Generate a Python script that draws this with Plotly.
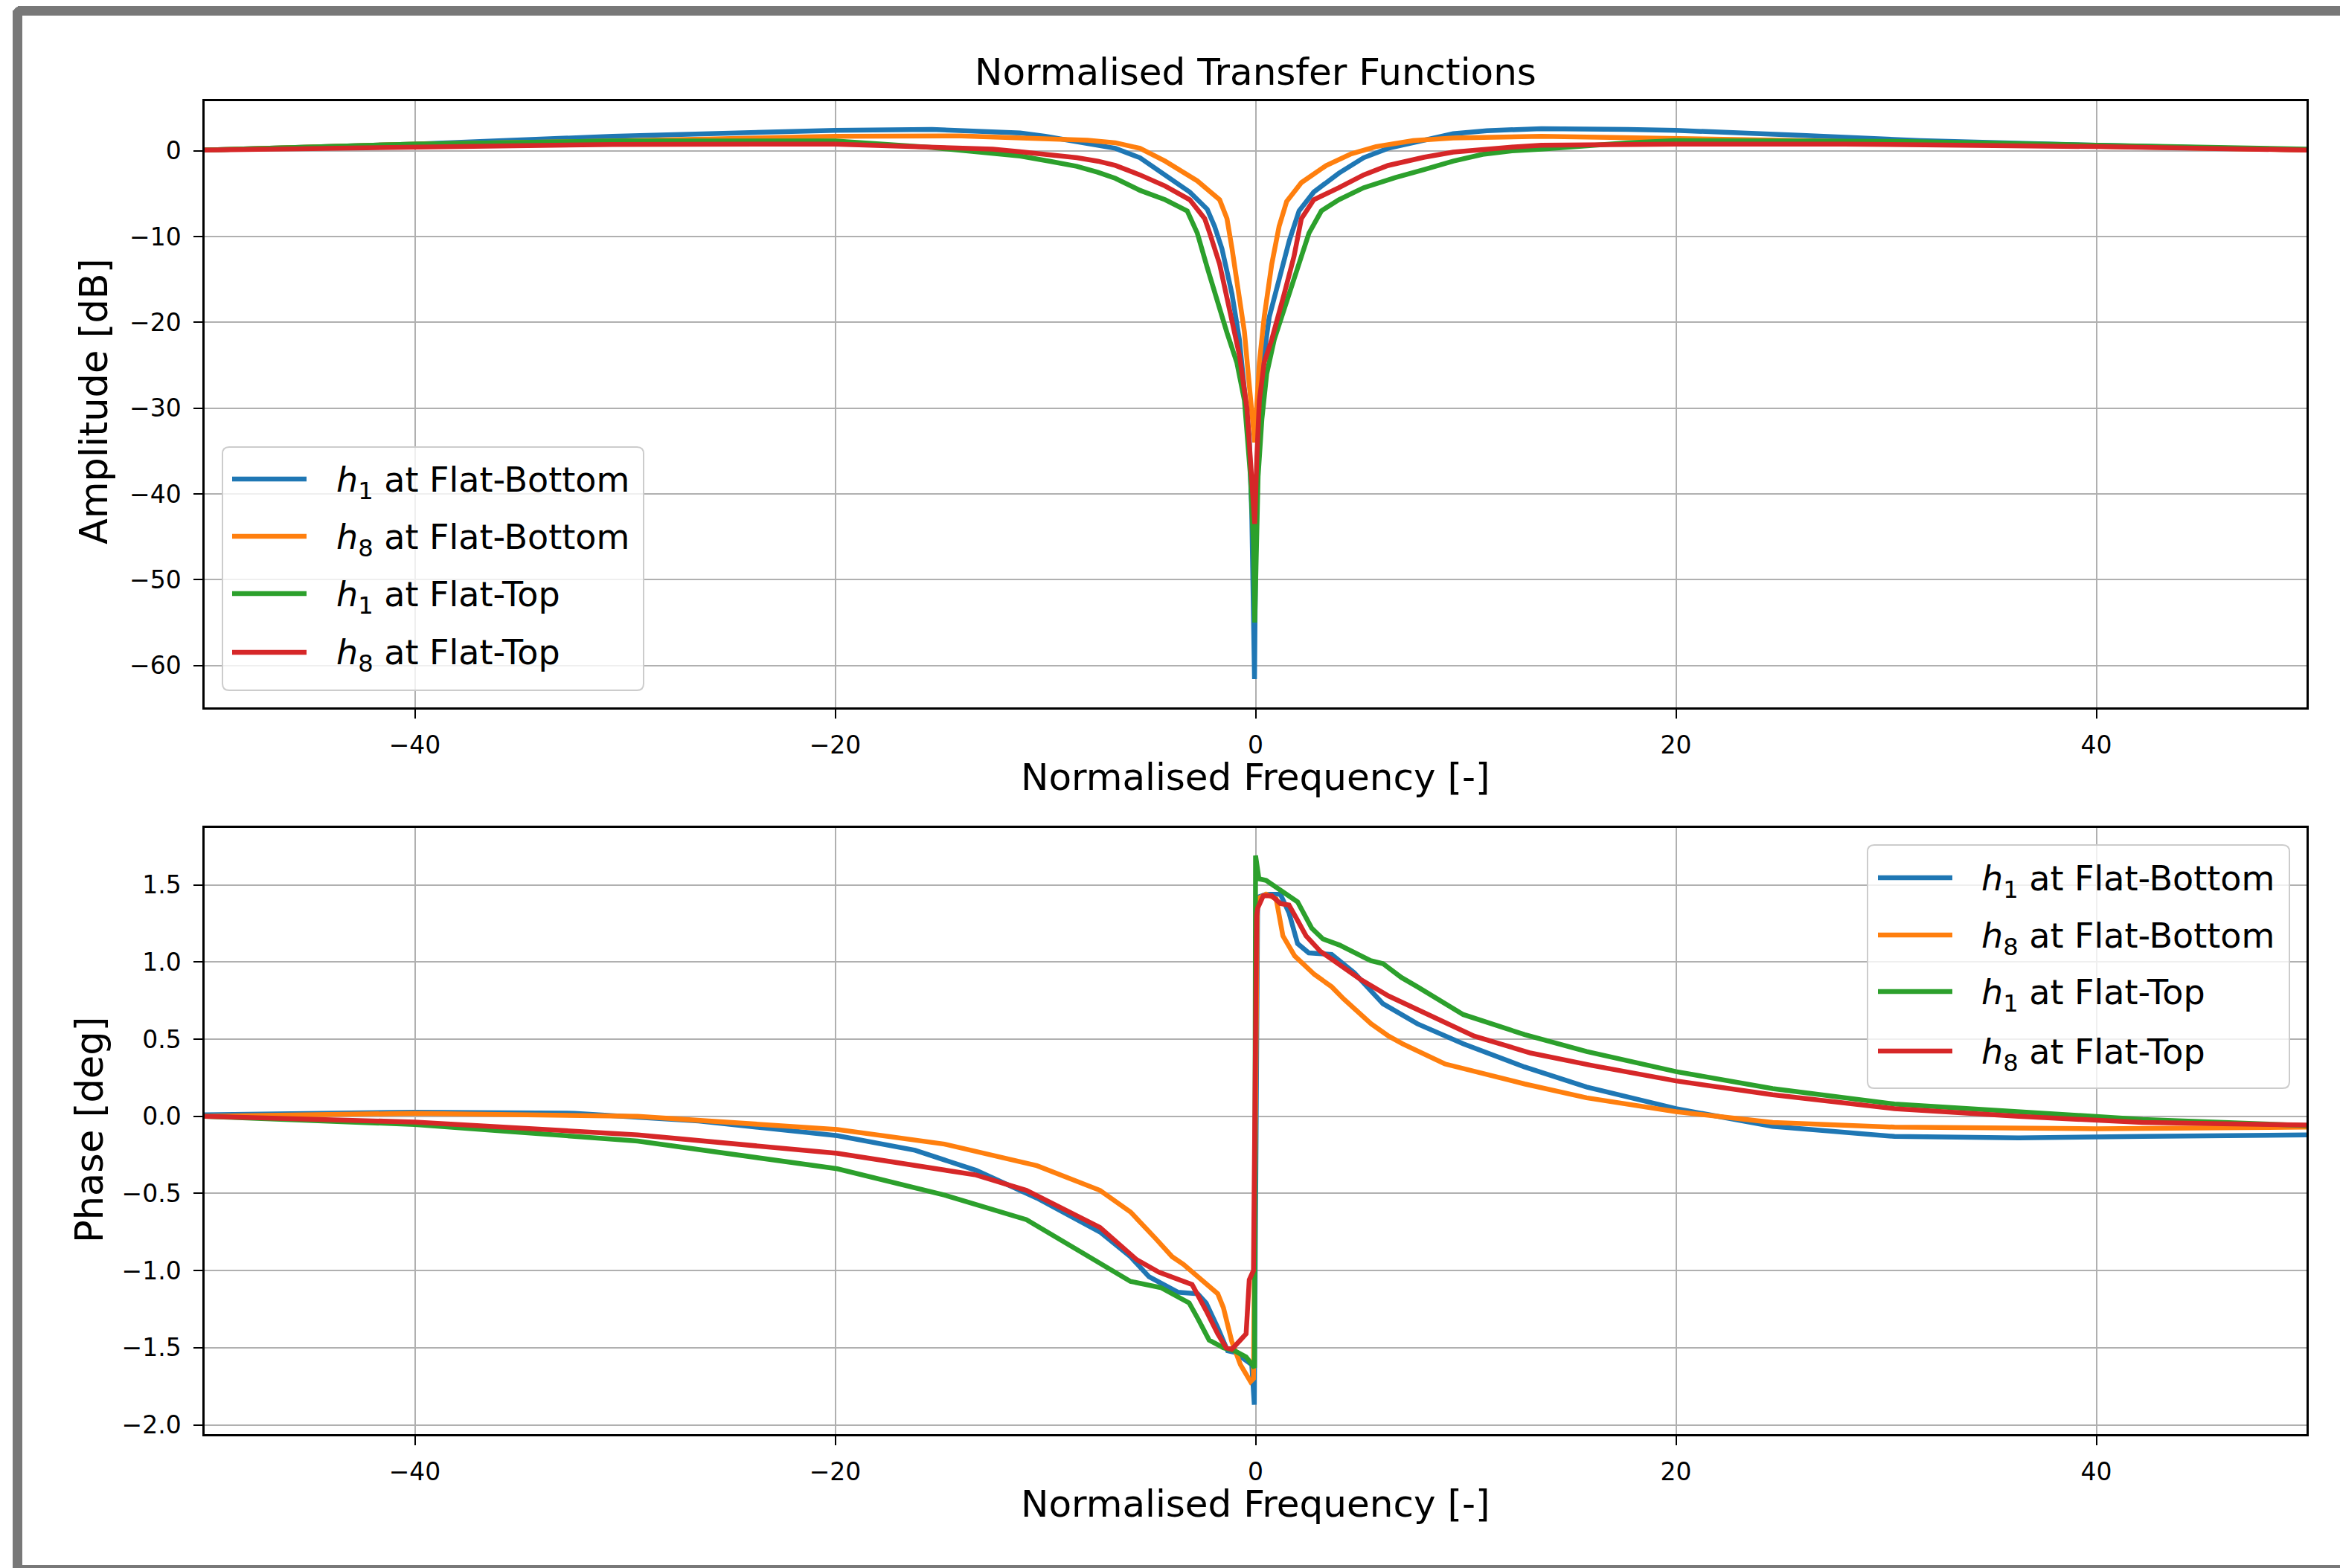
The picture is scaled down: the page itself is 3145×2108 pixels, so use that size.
import plotly.graph_objects as go

# ---------------------------------------------------------------- data
# Amplitude [dB] versus normalised frequency
amp_freq_h1_fb = [-50, -40, -30.6, -20, -15.4, -13, -11.2, -10, -8.5, -7.5, -6.67, -5.5, -4.3, -3.13, -2.3,
                  -1.95, -1.6, -1.12, -0.77, -0.53, -0.3, -0.18, -0.12, -0.05, 0.0, 0.06, 0.12, 0.3, 0.65,
                  1.12, 1.6, 2.07, 2.77, 3.96, 5.14, 6.3, 7.5, 8.0, 9.4, 11, 13.6, 17.7, 20, 26, 31.6,
                  40, 50]
amp_h1_fb = [0.1, 0.8, 1.7, 2.4, 2.5, 2.35, 2.1, 1.7, 1.1, 0.7, 0.3, -0.8, -2.8, -4.8, -6.8,
             -8.8, -11.4, -16.7, -22.0, -27.3, -33.5, -42.4, -51.2, -61.6, -48.0, -39.0, -33.5, -25.6, -19.4,
             -15.0, -10.5, -7.0, -4.8, -2.6, -0.8, 0.3, 1.0, 1.3, 2.0, 2.35, 2.6, 2.5, 2.4, 1.8, 1.2,
             0.66, 0.1]

amp_freq_h8_fb = [-50, -40, -30.6, -20, -14, -9.9, -8, -6.67, -5.5, -4.3, -2.77, -1.71, -1.36, -1.12,
                  -0.77, -0.53, -0.3, -0.12, -0.04, 0.05, 0.18, 0.41, 0.77, 1.12, 1.48, 2.18, 3.36, 4.55,
                  5.73, 7.5, 9.4, 13.6, 20, 26, 34, 40, 50]
amp_h8_fb = [0.1, 0.8, 1.15, 1.7, 1.75, 1.5, 1.25, 0.95, 0.3, -1.2, -3.5, -5.7, -7.9, -11.4,
             -16.7, -21.1, -27.3, -31.3, -34.0, -30.0, -24.7, -19.4, -13.2, -8.8, -5.9, -3.7, -1.7, -0.35,
             0.5, 1.2, 1.5, 1.7, 1.5, 1.2, 0.8, 0.5, 0.1]

amp_freq_h1_ft = [-50, -40, -30.6, -20, -15.4, -13, -11.2, -9.8, -8.5, -7.5, -6.67, -5.5, -4.3, -3.25,
                  -2.77, -2.3, -1.83, -1.36, -0.89, -0.53, -0.24, -0.1, -0.04, 0.04, 0.12, 0.3, 0.53, 0.89,
                  1.36, 1.83, 2.54, 3.13, 3.96, 5.14, 6.3, 6.66, 8.0, 9.4, 10.8, 12.2, 13.6, 17.7, 20,
                  31, 40, 50]
amp_h1_ft = [0.1, 0.8, 1.15, 1.15, 0.4, -0.1, -0.6, -1.2, -1.8, -2.5, -3.2, -4.6, -5.7, -7.0,
             -9.6, -13.6, -17.6, -21.2, -24.7, -29.1, -38.0, -46.0, -55.0, -45.0, -38.0, -31.3, -26.0, -22.0,
             -18.5, -15.0, -9.6, -7.0, -5.7, -4.3, -3.3, -3.1, -2.2, -1.2, -0.4, 0.0, 0.2, 0.95, 1.2,
             1.1, 0.66, 0.2]

amp_freq_h8_ft = [-50, -40, -30.6, -20, -15.4, -12.5, -11.2, -9.8, -8.5, -7.5, -6.67, -5.5, -4.3, -3.13,
                  -2.42, -2.18, -1.71, -1.24, -0.77, -0.41, -0.24, -0.12, -0.04, 0.06, 0.18, 0.41, 0.77,
                  1.36, 1.83, 2.18, 2.77, 3.96, 5.14, 6.3, 7.5, 8.0, 9.4, 10.8, 12.2, 13.6, 20, 28, 40, 50]
amp_h8_ft = [0.1, 0.5, 0.75, 0.8, 0.5, 0.2, -0.1, -0.45, -0.8, -1.2, -1.7, -2.8, -4.1, -5.7,
             -7.9, -9.6, -13.2, -18.5, -23.8, -30.0, -35.8, -40.0, -43.5, -35.8, -29.1, -24.7, -22.0,
             -16.7, -12.3, -7.9, -5.7, -4.3, -2.8, -1.7, -1.0, -0.75, -0.15, 0.2, 0.45, 0.66, 0.8, 0.8,
             0.5, 0.1]

# Phase versus normalised frequency
ph_freq_h1_fb = [-50, -40, -32.4, -26.5, -19.9, -16.2, -13.3, -10.4, -7.4, -5.95, -5.07, -3.97, -3.7,
                 -2.75, -2.35, -1.8, -1.33, -0.99, -0.45, -0.18, -0.06, 0.1, 0.5, 1.18, 1.59, 2.0, 2.53,
                 3.62, 4.7, 6.06, 7.7, 9.88, 12.8, 15.75, 20, 24.6, 30.4, 36.3, 42.2, 50]
ph_h1_fb = [0.01, 0.027, 0.02, -0.03, -0.125, -0.22, -0.35, -0.53, -0.75, -0.91, -1.04, -1.12, -1.14,
            -1.15, -1.21, -1.37, -1.52, -1.53, -1.58, -1.61, -1.87, 1.42, 1.44, 1.44, 1.32, 1.12, 1.06,
            1.05, 0.93, 0.73, 0.6, 0.47, 0.32, 0.19, 0.05, -0.065, -0.13, -0.14, -0.13, -0.12]

ph_freq_h8_fb = [-50, -40, -29.4, -19.9, -14.8, -10.4, -7.4, -5.95, -4.77, -3.97, -3.43, -1.8, -1.53,
                 -1.13, -0.72, -0.24, -0.1, 0.08, 0.5, 0.98, 1.3, 1.86, 2.8, 3.62, 4.2, 4.97, 5.5, 6.33,
                 7.0, 9.0, 9.88, 12.8, 15.75, 20, 24.6, 30.4, 40, 50]
ph_h8_fb = [0.0, 0.02, 0.0, -0.085, -0.18, -0.32, -0.48, -0.62, -0.79, -0.91, -0.96, -1.15, -1.24,
            -1.46, -1.61, -1.72, -1.70, 1.41, 1.44, 1.41, 1.17, 1.04, 0.92, 0.84, 0.76, 0.66, 0.6, 0.52,
            0.47, 0.34, 0.31, 0.21, 0.12, 0.03, -0.04, -0.07, -0.08, -0.07]

ph_freq_h1_ft = [-50, -40, -29.4, -19.9, -14.8, -10.9, -8.3, -5.95, -4.51, -3.97, -3.16, -2.75, -2.21,
                 -1.53, -0.99, -0.45, -0.18, -0.05, 0.0, 0.1, 0.16, 0.5, 1.3, 2.0, 2.67, 3.2, 4.0, 4.3,
                 5.47, 6.06, 6.94, 7.7, 9.88, 12.8, 15.75, 20, 24.6, 30.4, 36.3, 42.2, 50]
ph_h1_ft = [0.0, -0.053, -0.16, -0.34, -0.51, -0.67, -0.88, -1.07, -1.11, -1.15, -1.21, -1.31, -1.45,
            -1.50, -1.52, -1.56, -1.61, -1.63, 1.69, 1.55, 1.54, 1.53, 1.46, 1.39, 1.22, 1.15, 1.11, 1.09,
            1.01, 0.99, 0.9, 0.84, 0.66, 0.53, 0.42, 0.29, 0.18, 0.08, 0.03, -0.02, -0.06]

ph_freq_h8_ft = [-50, -40, -29.4, -19.9, -13.3, -10.9, -7.4, -5.65, -4.6, -3.97, -3.02, -2.35, -1.8,
                 -1.4, -1.13, -0.72, -0.45, -0.3, -0.1, 0.05, 0.1, 0.37, 0.77, 1.18, 1.59, 2.0, 2.4, 3.08,
                 3.89, 4.97, 6.33, 8.36, 10.4, 13.1, 16.0, 20, 24.6, 30.4, 36.3, 42.2, 50]
ph_h8_ft = [0.0, -0.037, -0.12, -0.24, -0.38, -0.48, -0.72, -0.93, -1.01, -1.04, -1.09, -1.26, -1.41,
            -1.50, -1.51, -1.45, -1.41, -1.06, -1.0, 1.3, 1.35, 1.43, 1.43, 1.38, 1.37, 1.27, 1.17, 1.07,
            0.99, 0.89, 0.78, 0.65, 0.52, 0.41, 0.33, 0.23, 0.14, 0.05, 0.0, -0.04, -0.056]

series_labels = ["<i>h</i><sub>1</sub> at Flat-Bottom", "<i>h</i><sub>8</sub> at Flat-Bottom",
                 "<i>h</i><sub>1</sub> at Flat-Top", "<i>h</i><sub>8</sub> at Flat-Top"]
series_colors = ["#1f77b4", "#ff7f0e", "#2ca02c", "#d62728"]

amp_series = [(amp_freq_h1_fb, amp_h1_fb), (amp_freq_h8_fb, amp_h8_fb),
              (amp_freq_h1_ft, amp_h1_ft), (amp_freq_h8_ft, amp_h8_ft)]
ph_series = [(ph_freq_h1_fb, ph_h1_fb), (ph_freq_h8_fb, ph_h8_fb),
             (ph_freq_h1_ft, ph_h1_ft), (ph_freq_h8_ft, ph_h8_ft)]

x_ticks = [-40, -20, 0, 20, 40]
amp_ticks = [0, -10, -20, -30, -40, -50, -60]
ph_ticks = [-2.0, -1.5, -1.0, -0.5, 0.0, 0.5, 1.0, 1.5]

# ---------------------------------------------------------------- layout geometry (pixels)
W, H = 3145, 2108
ML, MR, MT, MB = 275, 45, 136, 180
PW, PH = W - ML - MR, H - MT - MB


def px(x):
    return (x - ML) / PW


def py(y):
    return (H - MB - y) / PH


FONT = "DejaVu Sans"
LW = 6.5

fig = go.Figure()
for (fx, fy), name, col in zip(amp_series, series_labels, series_colors):
    fig.add_trace(go.Scatter(x=fx, y=fy, mode="lines", name=name, showlegend=False,
                             line=dict(color=col, width=LW), xaxis="x", yaxis="y"))
for (fx, fy), name, col in zip(ph_series, series_labels, series_colors):
    fig.add_trace(go.Scatter(x=fx, y=fy, mode="lines", name=name, showlegend=False,
                             line=dict(color=col, width=LW), xaxis="x2", yaxis="y2"))

axis_common = dict(showgrid=True, gridcolor="#b0b0b0", gridwidth=2, zeroline=False,
                   showline=True, mirror=True, linecolor="black", linewidth=2.5,
                   ticks="outside", ticklen=12, tickwidth=2, tickcolor="black",
                   tickfont=dict(family=FONT, size=33, color="black"))

fig.update_layout(
    width=W, height=H,
    margin=dict(l=ML, r=MR, t=MT, b=MB, pad=0),
    paper_bgcolor="white", plot_bgcolor="white",
    template="none",
    showlegend=False,
    xaxis=dict(domain=[0, 1], range=[-50, 50], anchor="y", tickvals=x_ticks,
               ticklabelstandoff=8, **axis_common),
    yaxis=dict(domain=[py(951), 1], range=[-64.9, 5.8], anchor="x", tickvals=amp_ticks,
               ticklabelstandoff=10, **axis_common),
    xaxis2=dict(domain=[0, 1], range=[-50, 50], anchor="y2", tickvals=x_ticks,
                ticklabelstandoff=8, **axis_common),
    yaxis2=dict(domain=[0, py(1113)], range=[-2.06, 1.87], anchor="x2", tickvals=ph_ticks,
                tickformat=".1f", ticklabelstandoff=10, **axis_common),
)

# ---------------------------------------------------------------- titles
ann = []
ann.append(dict(text="Normalised Transfer Functions", x=0.5, y=py(97), xref="paper", yref="paper",
                xanchor="center", yanchor="middle", showarrow=False,
                font=dict(family=FONT, size=50, color="black")))
for yc in (1045, 2022):
    ann.append(dict(text="Normalised Frequency [-]", x=0.5, y=py(yc), xref="paper", yref="paper",
                    xanchor="center", yanchor="middle", showarrow=False,
                    font=dict(family=FONT, size=50, color="black")))
ann.append(dict(text="Amplitude [dB]", x=px(126), y=py(540), xref="paper", yref="paper",
                xanchor="center", yanchor="middle", textangle=-90, showarrow=False,
                font=dict(family=FONT, size=51, color="black")))
ann.append(dict(text="Phase [deg]", x=px(120), y=py(1519), xref="paper", yref="paper",
                xanchor="center", yanchor="middle", textangle=-90, showarrow=False,
                font=dict(family=FONT, size=51, color="black")))

shapes = []


def rounded_box(x0, y0, x1, y1, r):
    # rounded rectangle given in pixels, returned as a paper-space SVG path
    pts = [
        ("M", x0 + r, y0), ("L", x1 - r, y0), ("Q", x1, y0, x1, y0 + r), ("L", x1, y1 - r),
        ("Q", x1, y1, x1 - r, y1), ("L", x0 + r, y1), ("Q", x0, y1, x0, y1 - r), ("L", x0, y0 + r),
        ("Q", x0, y0, x0 + r, y0),
    ]
    out = []
    for p in pts:
        if p[0] == "Q":
            out.append(f"Q{px(p[1])},{py(p[2])} {px(p[3])},{py(p[4])}")
        else:
            out.append(f"{p[0]}{px(p[1])},{py(p[2])}")
    return " ".join(out) + " Z"


def add_legend(box, line_x, rows, text_x):
    shapes.append(dict(type="path", path=rounded_box(*box, 9), xref="paper", yref="paper",
                       fillcolor="rgba(255,255,255,0.8)", line=dict(color="#cccccc", width=2),
                       layer="above"))
    for yrow, name, col in zip(rows, series_labels, series_colors):
        shapes.append(dict(type="line", x0=px(line_x[0]), x1=px(line_x[1]), y0=py(yrow), y1=py(yrow),
                           xref="paper", yref="paper", line=dict(color=col, width=LW), layer="above"))
        ann.append(dict(text=name, x=px(text_x), y=py(yrow + 4), xref="paper", yref="paper",
                        xanchor="left", yanchor="middle", showarrow=False,
                        font=dict(family=FONT, size=46, color="black")))


add_legend((299, 601, 865, 928), (312, 412), [644, 721, 798, 877], 450)
add_legend((2510, 1136, 3077, 1463), (2524, 2624), [1180, 1257, 1333, 1413], 2661)

# outer grey frame
frame_col = "#787878"
shapes.append(dict(type="rect", x0=px(17), x1=px(30), y0=py(14), y1=py(2115), xref="paper",
                   yref="paper", fillcolor=frame_col, line=dict(width=0), layer="above"))
shapes.append(dict(type="rect", x0=px(24), x1=px(3160), y0=py(8), y1=py(21), xref="paper",
                   yref="paper", fillcolor=frame_col, line=dict(width=0), layer="above"))
shapes.append(dict(type="path", path=f"M{px(17)},{py(21)} Q{px(17)},{py(8)} {px(30)},{py(8)} L{px(30)},{py(21)} Z",
                   xref="paper", yref="paper", fillcolor=frame_col, line=dict(width=0), layer="above"))
shapes.append(dict(type="rect", x0=px(17), x1=px(3160), y0=py(2104), y1=py(2115), xref="paper",
                   yref="paper", fillcolor=frame_col, line=dict(width=0), layer="above"))

fig.update_layout(annotations=ann, shapes=shapes)
fig.write_html("out.html")
